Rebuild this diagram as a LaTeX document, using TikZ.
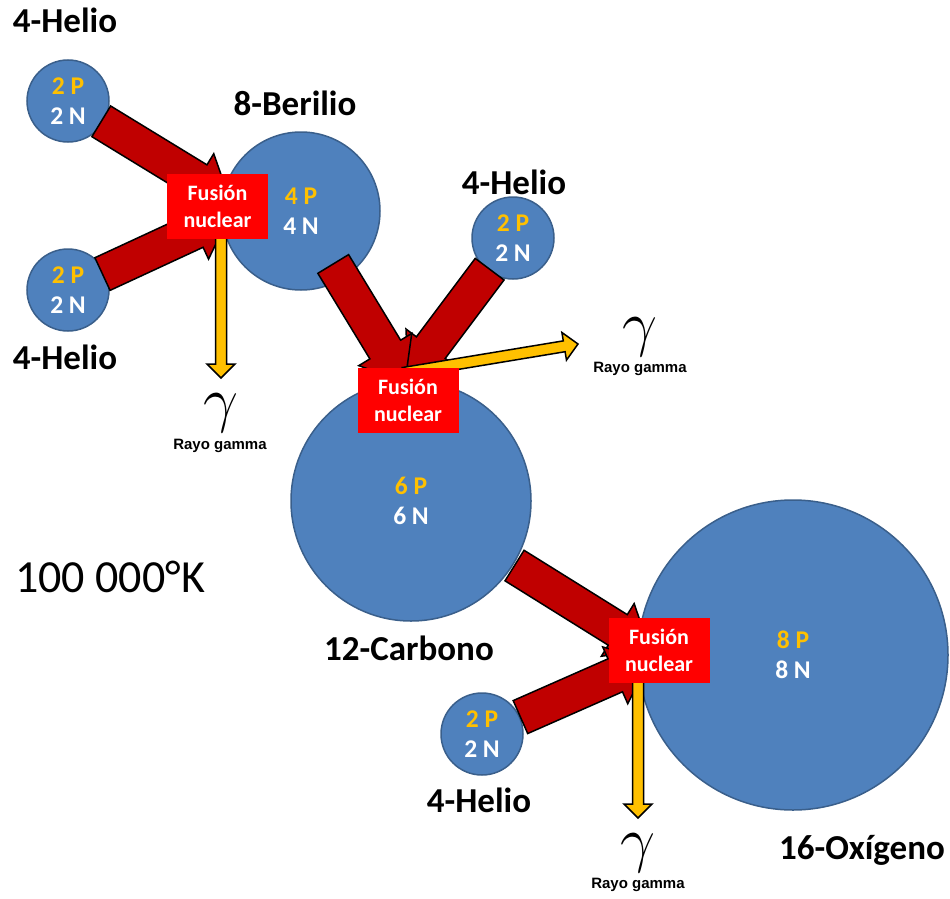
\documentclass[tikz,border=0pt]{standalone}
\usepackage{fontspec}
\setmainfont{Carlito}
\newfontfamily\rayofont{Liberation Sans}
\usepackage{xcolor}
\usepackage{tikz}
\usetikzlibrary{calc}

\definecolor{nucblue}{HTML}{4F81BD}
\definecolor{nucedge}{HTML}{3A5F8B}
\definecolor{protgold}{HTML}{FFC000}
\definecolor{fusred}{HTML}{FF0000}
\definecolor{beamred}{HTML}{C00000}

% block arrow: style, start, tip, half shaft, half head, head length
\newcommand{\blockarrow}[6]{%
  \coordinate (ba-h) at ($(#3)!#6!(#2)$);
  \filldraw[#1] ($(#2)!#4!90:(#3)$) -- ($(ba-h)!#4!90:(#3)$) -- ($(ba-h)!#5!90:(#3)$) -- (#3)
    -- ($(ba-h)!#5!-90:(#3)$) -- ($(ba-h)!#4!-90:(#3)$) -- ($(#2)!#4!-90:(#3)$) -- cycle;}

\begin{document}
\begin{tikzpicture}[x=1pt,y=-1pt]
  \tikzstyle{nucleus}=[circle,fill=nucblue,draw=nucedge,line width=1.5pt,inner sep=0pt,align=center,text=white,font=\fontsize{25.5}{30}\selectfont\bfseries]
  \tikzstyle{fusion}=[fill=fusred,text=white,minimum width=101pt,minimum height=65pt,inner sep=0pt,align=center,font=\fontsize{22}{27}\selectfont\bfseries]
  \tikzstyle{element}=[font=\fontsize{35}{40}\selectfont\bfseries]
  \tikzstyle{beam}=[fill=beamred,draw=black,line width=1.5pt,line join=miter]
  \tikzstyle{ray}=[fill=protgold,draw=black,line width=1.5pt,line join=miter]
  \tikzstyle{gammasym}=[font=\Huge,scale=2.5,inner sep=0pt]
  \tikzstyle{rayo}=[font={\rayofont\fontsize{15}{18}\selectfont\bfseries}]
  \useasboundingbox (0,0) rectangle (950,899);

  % nuclei
  \node[nucleus,minimum size=82pt] (he1) at (68,101) {\textcolor{protgold}{2 P}\\2 N};
  \node[nucleus,minimum size=82pt] (he2) at (68,290) {\textcolor{protgold}{2 P}\\2 N};
  \node[nucleus,minimum size=158pt] (be) at (301,211) {\textcolor{protgold}{4 P}\\4 N};
  \node[nucleus,minimum size=82pt] (he3) at (513,238) {\textcolor{protgold}{2 P}\\2 N};
  \node[nucleus,minimum size=240pt] (carb) at (411,501) {\textcolor{protgold}{6 P}\\6 N};
  \node[nucleus,minimum size=82pt] (he4) at (482,734) {\textcolor{protgold}{2 P}\\2 N};
  \node[nucleus,minimum size=310pt] (oxy) at (793,655) {\textcolor{protgold}{8 P}\\8 N};

  % arrow tips and gamma rays
  \coordinate (tipA) at (230,200);
  \coordinate (tipB) at (230,215);
  \coordinate (tipC) at (405,382);
  \coordinate (tipD) at (408,378);
  \coordinate (tipE) at (650,650);
  \coordinate (tipF) at (650,660);
  \coordinate (gs1) at (221,220);
  \coordinate (gt1) at (221,378);
  \coordinate (gs2) at (403,373);
  \coordinate (gt2) at (578,344);
  \coordinate (gs3) at (638,660);
  \coordinate (gt3) at (638,818);

  \foreach \nuc/\tip/\dist in {he1/tipA/39pt,he2/tipB/38pt,he3/tipD/39pt,be/tipC/62pt,carb/tipE/122pt,he4/tipF/42pt}{
    \coordinate (beam-s) at ($(\nuc.center)!\dist!(\tip)$);
    \blockarrow{beam}{beam-s}{\tip}{18pt}{31pt}{38pt}
  }
  \foreach \a/\b in {gs1/gt1,gs2/gt2,gs3/gt3}
    \blockarrow{ray}{\a}{\b}{5.5pt}{14pt}{14pt};

  % fusion boxes
  \node[fusion] (fus1) at (217.5,206.5) {Fusión\\nuclear};
  \node[fusion] (fus2) at (408,400.5) {Fusión\\nuclear};
  \node[fusion] (fus3) at (659,650.5) {Fusión\\nuclear};

  % labels
  \node[element] (lhe1) at (65,20) {4-Helio};
  \node[element] (lhe2) at (65,357) {4-Helio};
  \node[element] (lbe) at (295,103) {8-Berilio};
  \node[element] (lhe3) at (514,182) {4-Helio};
  \node[element] (lcarb) at (409,648) {12-Carbono};
  \node[element] (lhe4) at (479,800) {4-Helio};
  \node[element] (loxy) at (862,850) {16-Oxígeno};
  \node[font=\fontsize{46}{50}\selectfont] (temp) at (110,577) {100 000°K};

  \node[gammasym] (gam1) at (221,413) {$\gamma$};
  \node[rayo] (ray1) at (220,446) {Rayo gamma};
  \node[gammasym] (gam2) at (640,337) {$\gamma$};
  \node[rayo] (ray2) at (640,369) {Rayo gamma};
  \node[gammasym] (gam3) at (638,853) {$\gamma$};
  \node[rayo] (ray3) at (638,885) {Rayo gamma};
\end{tikzpicture}
\end{document}
